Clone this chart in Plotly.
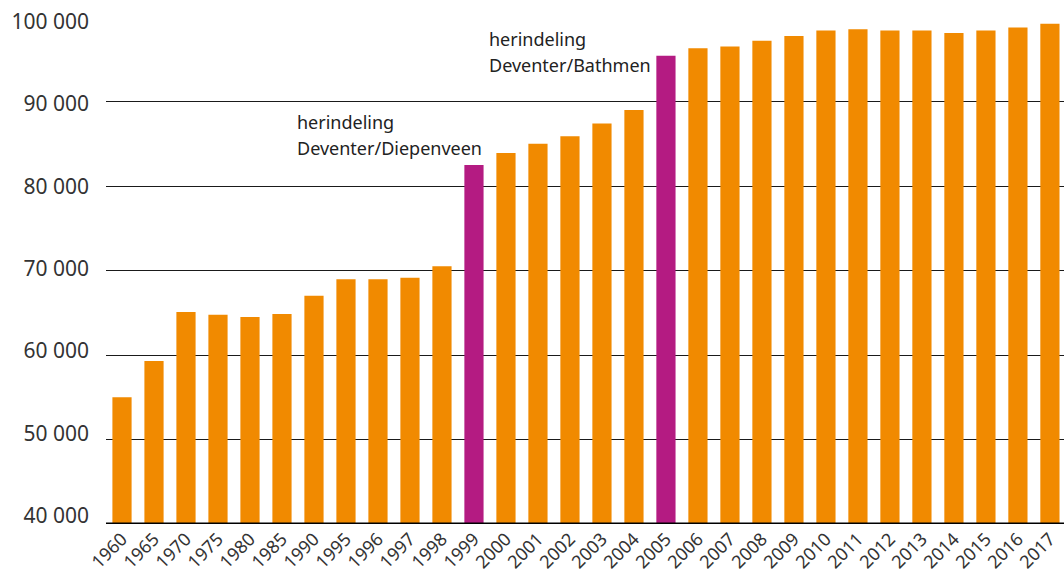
import plotly.graph_objects as go

years = ["1960", "1965", "1970", "1975", "1980", "1985", "1990", "1995", "1996", "1997",
         "1998", "1999", "2000", "2001", "2002", "2003", "2004", "2005", "2006", "2007",
         "2008", "2009", "2010", "2011", "2012", "2013", "2014", "2015", "2016", "2017"]
population = [55000, 59300, 65100, 64750, 64500, 64850, 67000, 68950, 68950, 69150,
              70500, 82500, 83900, 85000, 85900, 87400, 89000, 95400, 96300, 96500,
              97200, 97750, 98400, 98550, 98400, 98400, 98100, 98400, 98750, 99200]
merger_years = ["1999", "2005"]
annotation_lines = {"1999": ["herindeling", "Deventer/Diepenveen"],
                    "2005": ["herindeling", "Deventer/Bathmen"]}
y_ticks = [40000, 50000, 60000, 70000, 80000, 90000, 100000]
y_ticktext = ["40 000", "50 000", "60 000", "70 000", "80 000", "90 000", "100 000"]

ORANGE = "#F18A00"
PURPLE = "#B41B82"
TEXT = "#333333"
colors = [PURPLE if y in merger_years else ORANGE for y in years]

fig = go.Figure()
fig.add_trace(go.Bar(x=years, y=population, marker=dict(color=colors, line=dict(width=0)),
                     width=0.6, hoverinfo="x+y"))
# invisible helper trace so the label axis is drawn
fig.add_trace(go.Scatter(x=[years[0]], y=[population[0]], yaxis="y2", mode="markers",
                         marker=dict(opacity=0), hoverinfo="skip", showlegend=False))

# text placement (pixels) relative to the bar top: [xshift, yshift of line 2]
placement = {"1999": (-179, 3), "2005": (-179, -23)}
for yr in merger_years:
    i = years.index(yr)
    xs, ys = placement[yr]
    for k, line in enumerate(annotation_lines[yr]):
        fig.add_annotation(x=i, y=population[i], xref="x", yref="y",
                           text=line, showarrow=False,
                           xanchor="left", yanchor="bottom", align="left",
                           xshift=xs, yshift=ys + (1 - k) * 26,
                           font=dict(family="Noto Sans", size=18, color="#222222"))

fig.update_layout(
    width=1064, height=573,
    margin=dict(l=106, r=0, t=17, b=49),
    plot_bgcolor="white", paper_bgcolor="white",
    showlegend=False,
    font=dict(family="Noto Sans", color=TEXT),
    xaxis=dict(type="category", range=[-0.5, 29.44], tickangle=-45,
               tickfont=dict(size=18, color=TEXT), showgrid=False,
               showline=False, ticks="", automargin=False),
    yaxis=dict(range=[40000, 100000], tickvals=y_ticks, showticklabels=False,
               showgrid=True, gridcolor="#1a1a1a", gridwidth=1, zeroline=False,
               ticks="", showline=False, automargin=False),
    yaxis2=dict(overlaying="y", side="left", range=[38992, 100571],
                tickvals=y_ticks, ticktext=y_ticktext,
                tickfont=dict(size=21, color=TEXT), showgrid=False, zeroline=False,
                ticks="", ticklabelstandoff=16, showline=False, automargin=False),
)
fig.add_shape(type="line", xref="paper", yref="y", x0=0, x1=1, y0=40000, y1=40000,
              line=dict(color="black", width=3), layer="above")

fig.write_html("out.html", config={"displayModeBar": False},
               post_script="document.body.style.margin='0';document.body.style.overflow='hidden';")
